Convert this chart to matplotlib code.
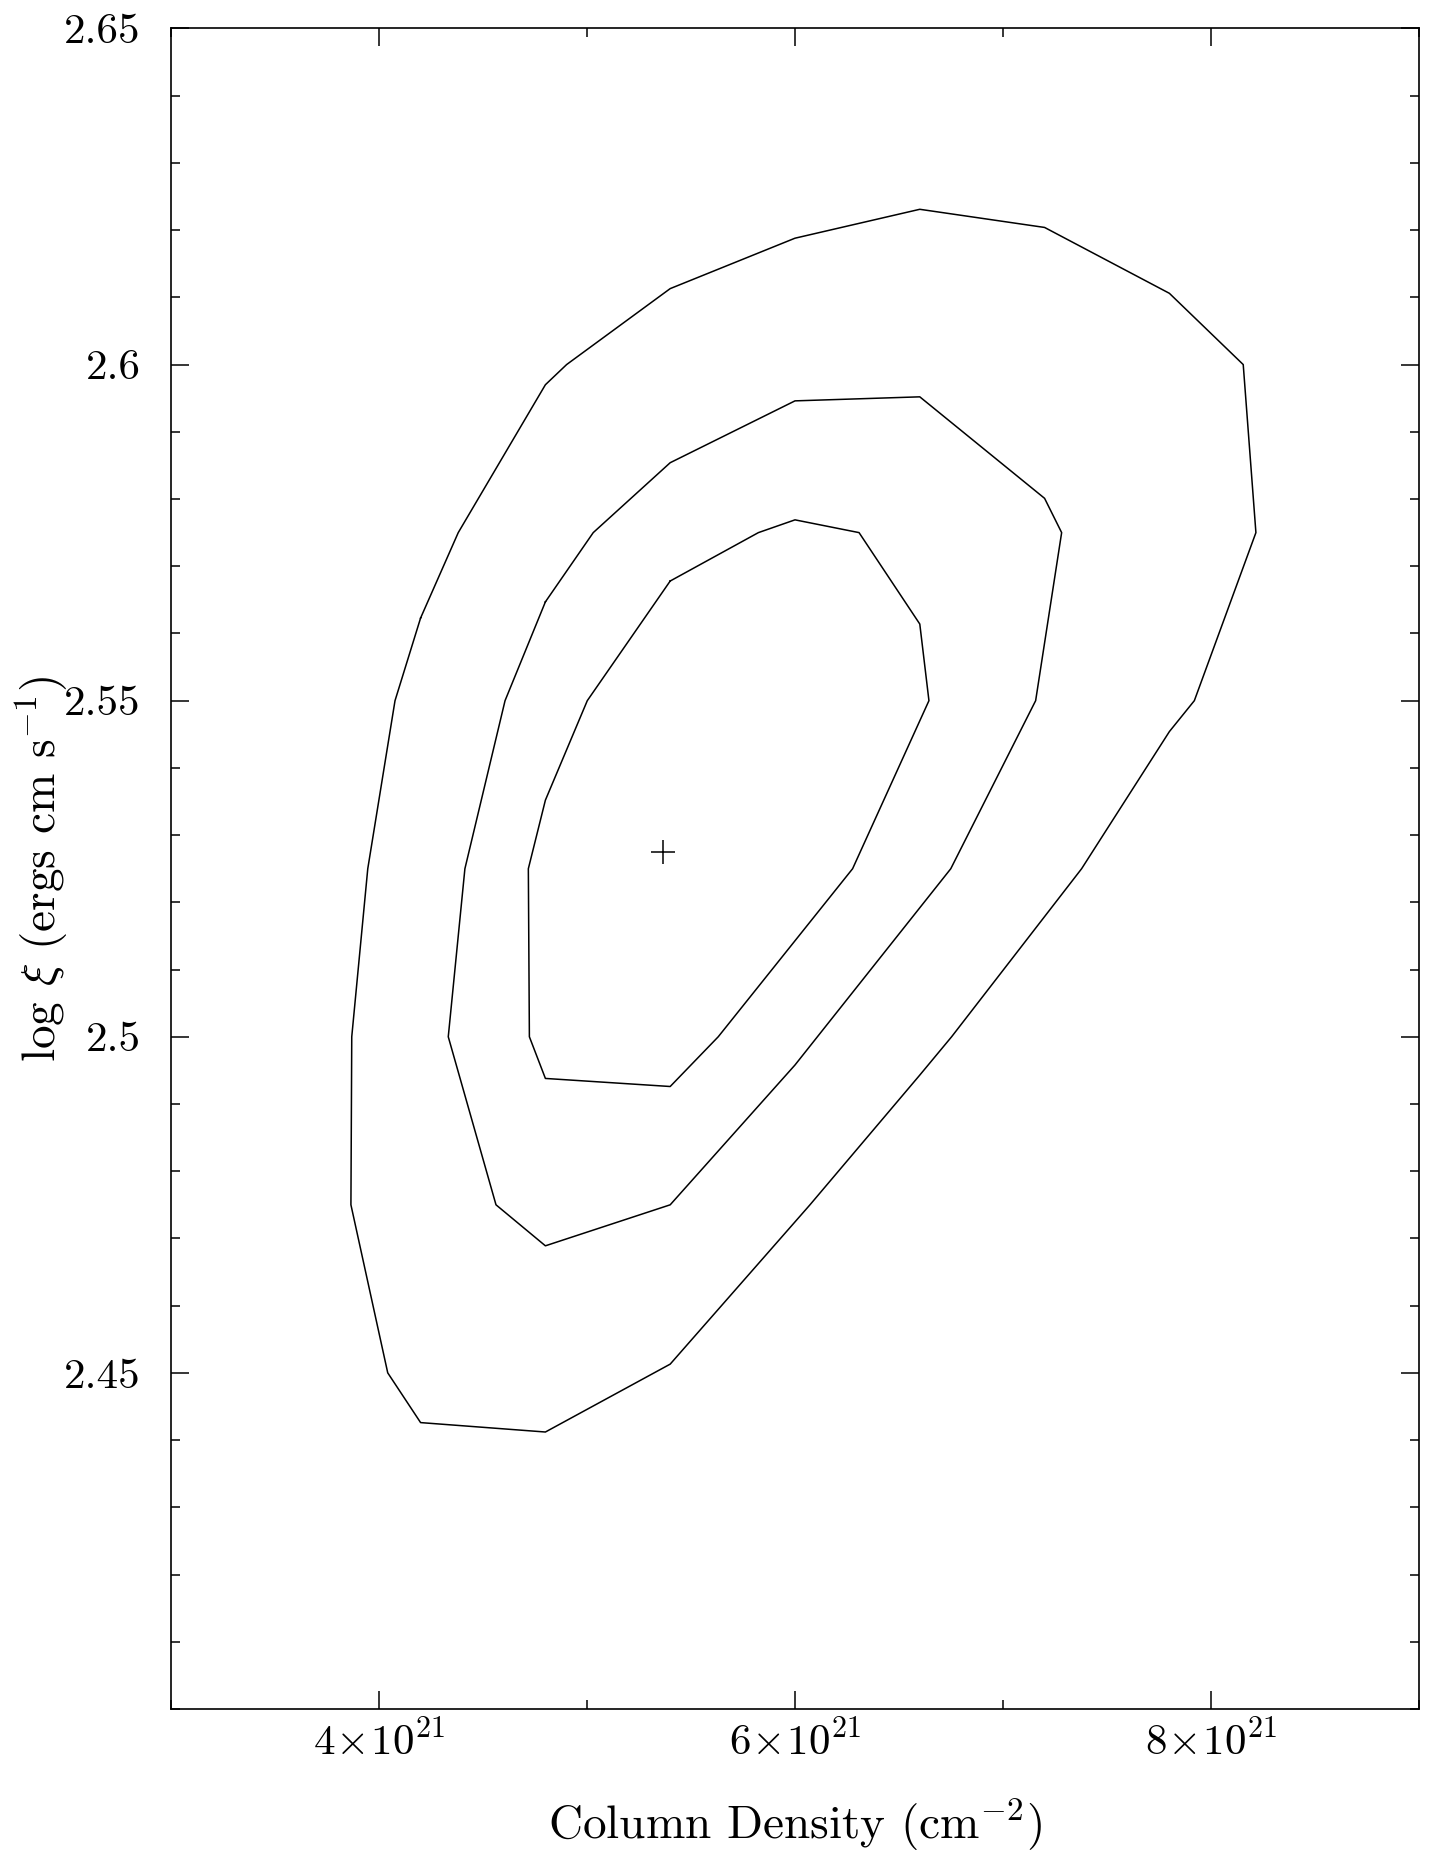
import numpy as np
import matplotlib
matplotlib.use('Agg')
import matplotlib.pyplot as plt
from matplotlib.ticker import FixedLocator, MultipleLocator, FuncFormatter

plt.rcParams['font.family'] = 'serif'
plt.rcParams['font.serif'] = ['cmr10']
plt.rcParams['mathtext.fontset'] = 'cm'
plt.rcParams['axes.unicode_minus'] = False
plt.rcParams['axes.formatter.use_mathtext'] = True

# column density in units of 1e21 cm^-2, log xi
outer_x = [4.2, 4.381, 4.8, 4.902, 5.4, 6.0, 6.6, 7.2, 7.8, 8.155, 8.216, 7.92,
           7.8, 7.378, 6.753, 6.6, 6.072, 5.4, 4.8, 4.2, 4.042, 3.865, 3.869,
           3.946, 4.077, 4.2]
outer_y = [2.5623, 2.575, 2.597, 2.6, 2.6113, 2.6188, 2.6231, 2.6204, 2.6106,
           2.6, 2.575, 2.55, 2.5454, 2.525, 2.5, 2.4943, 2.475, 2.4513, 2.4412,
           2.4426, 2.45, 2.475, 2.5, 2.525, 2.55, 2.5623]

middle_x = [4.8, 5.030, 5.4, 6.0, 6.6, 7.2, 7.282, 7.157, 6.749, 6.0, 5.4, 4.8,
            4.5625, 4.333, 4.413, 4.606, 4.8]
middle_y = [2.5647, 2.575, 2.5854, 2.5946, 2.5952, 2.5801, 2.575, 2.55, 2.525,
            2.4958, 2.475, 2.4689, 2.475, 2.5, 2.525, 2.55, 2.5647]

inner_x = [5.4, 5.824, 6.0, 6.308, 6.6, 6.644, 6.277, 5.631, 5.4, 4.8, 4.723,
           4.718, 4.8, 5.0014, 5.4]
inner_y = [2.5678, 2.575, 2.5769, 2.575, 2.5614, 2.55, 2.525, 2.5, 2.4926,
           2.4938, 2.5, 2.525, 2.5352, 2.55, 2.5678]

best_x = 5.365
best_y = 2.5275

xticks = [4, 6, 8]
yticks = [2.45, 2.5, 2.55, 2.6, 2.65]

fig = plt.figure(figsize=(14.31, 18.61), dpi=100)
ax = fig.add_axes([0.1195, 0.0817, 0.8721, 0.903])

for cx, cy in [(outer_x, outer_y), (middle_x, middle_y), (inner_x, inner_y)]:
    ax.plot(np.array(cx) * 1e21, cy, color='k', lw=1.1)

ax.plot([best_x * 1e21], [best_y], marker='+', color='k', ms=17, mew=1.1, ls='')

ax.set_xlim(3e21, 9e21)
ax.set_ylim(2.40, 2.65)

ax.xaxis.set_major_locator(FixedLocator([v * 1e21 for v in xticks]))
ax.xaxis.set_minor_locator(MultipleLocator(1e21))
ax.xaxis.set_major_formatter(FuncFormatter(
    lambda v, p: r'$%d\!\times\!10^{21}$' % round(v / 1e21)))
ax.yaxis.set_major_locator(FixedLocator(yticks))
ax.yaxis.set_minor_locator(MultipleLocator(0.01))
ax.yaxis.set_major_formatter(FuncFormatter(lambda v, p: '%g' % v))

ax.tick_params(which='both', direction='in', top=True, right=True, width=1.1)
ax.tick_params(which='major', length=13)
ax.tick_params(which='minor', length=6.7)
ax.tick_params(axis='y', labelsize=31, pad=22)
ax.tick_params(axis='x', labelsize=31, pad=8)
for s in ax.spines.values():
    s.set_linewidth(1.2)

ax.set_xlabel(r'Column Density (cm$^{-2}$)', fontsize=34)
ax.set_ylabel(r'log $\xi$ (ergs cm s$^{-1}$)', fontsize=34)
ax.xaxis.set_label_coords(0.5, -0.052)
ax.yaxis.set_label_coords(-0.080, 0.5)

fig.savefig('out.png', dpi=100)
